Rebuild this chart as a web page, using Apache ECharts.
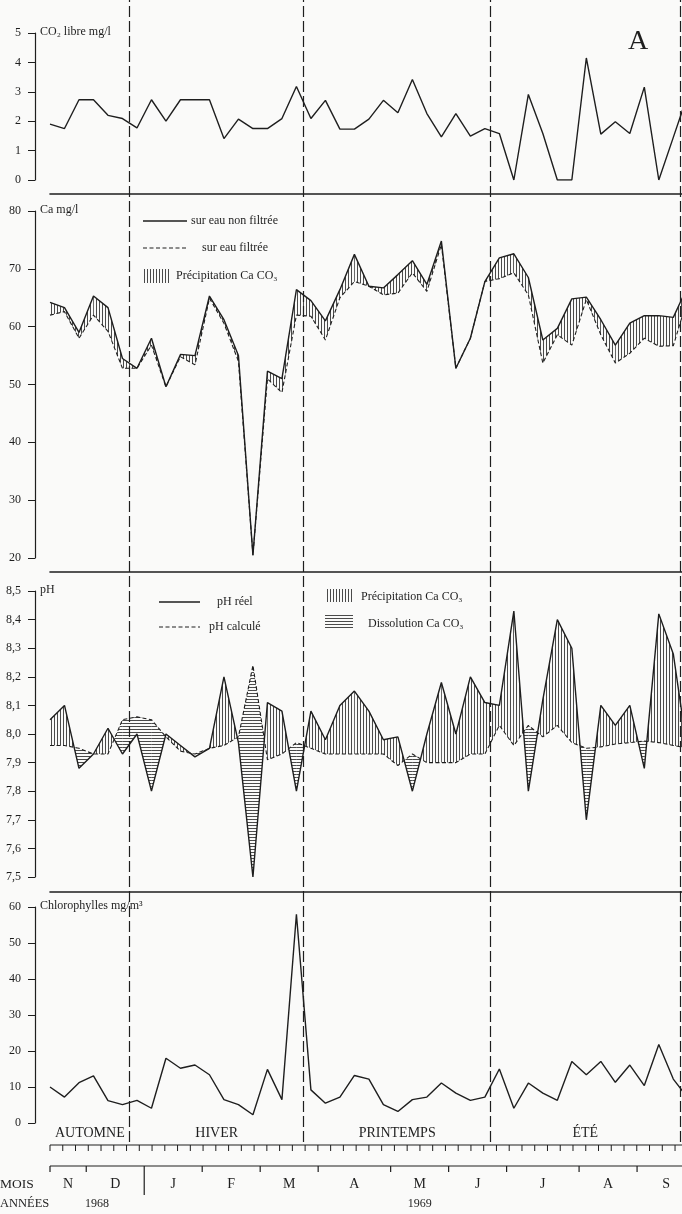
<!DOCTYPE html>
<html><head><meta charset="utf-8">
<script src="https://cdn.jsdelivr.net/npm/echarts@6/dist/echarts.min.js"></script>
<style>html,body{margin:0;padding:0;background:#fafaf9;}#c{width:682px;height:1214px;}</style>
</head><body><div id="c"></div>
<script>
// Weekly samples, index 0..44 (Nov 1968 - Sep 1969)
const co2 = [1.9,1.75,2.73,2.73,2.2,2.09,1.77,2.73,2.0,2.73,2.73,2.73,1.41,2.07,1.75,1.75,2.09,3.18,2.09,2.71,1.73,1.73,2.07,2.71,2.29,3.42,2.26,1.47,2.26,1.49,1.75,1.58,0,2.91,1.58,0,0,4.15,1.56,1.98,1.58,3.16,0,1.45,2.9];
const caRaw = [64.2,63.3,59.0,65.3,63.3,54.5,52.8,58.0,49.6,55.2,55.0,65.3,61.2,55.0,20.5,52.3,51.0,66.4,64.5,61.0,66.4,72.5,67.0,66.7,69.0,71.4,67.3,74.8,52.8,58.0,67.8,71.9,72.6,68.5,57.7,59.7,64.8,65.1,61.2,56.8,60.6,61.9,61.9,61.6,67];
const caFilt = [62.0,62.6,58.0,62.0,59.2,52.8,52.8,56.8,49.6,54.8,53.4,64.9,60.6,54.0,20.5,51.0,48.6,62.0,61.8,57.7,65.0,67.8,67.0,65.5,65.8,69.3,66.1,74.2,52.8,58.0,67.8,68.3,69.3,65.5,53.7,58.6,56.8,64.7,58.6,53.7,55.4,58.0,56.6,56.7,65];
const phReal = [8.05,8.10,7.88,7.93,8.02,7.93,8.00,7.80,8.00,7.96,7.92,7.95,8.20,7.97,7.50,8.11,8.08,7.80,8.08,7.98,8.10,8.15,8.08,7.98,7.99,7.80,8.00,8.18,8.00,8.20,8.11,8.10,8.43,7.80,8.12,8.40,8.30,7.70,8.10,8.03,8.10,7.88,8.42,8.28,7.93];
const phCalc = [7.96,7.96,7.95,7.93,7.93,8.05,8.06,8.05,7.99,7.94,7.93,7.95,7.96,7.99,8.24,7.91,7.93,7.97,7.95,7.93,7.93,7.93,7.93,7.93,7.89,7.93,7.90,7.90,7.90,7.93,7.93,8.03,7.96,8.03,7.99,8.03,7.97,7.95,7.955,7.965,7.97,7.975,7.97,7.96,7.95];
const chl = [10,7.2,11.2,13.1,6.2,5.1,6.3,4.1,18.0,15.2,16.1,13.4,6.5,5.1,2.3,14.9,6.5,58,9.2,5.5,7.2,13.2,12.2,5.1,3.2,6.5,7.2,11.1,8.3,6.3,7.2,15.0,4.1,11.1,8.3,6.3,17.1,13.4,17.1,11.3,16.1,10.4,21.8,12.2,7];

const months = ['N','D','J','F','M','A','M','J','J','A','S'];
const monthBounds = [0,2.5,6.5,10.5,14.5,18.5,23.5,27.5,31.5,36.5,40.5,44.5];
const years = ['1968','1969'];
const yearBounds = [0,6.5,44.5];
const seasons = ['AUTOMNE','HIVER','PRINTEMPS','ÉTÉ'];
const seasonBounds = [0,5.5,17.5,30.4,43.45];
const weekStep = 0.88;
const XMAX = 43.6;

const INK = '#1e1e1e';
const FONT = '"Liberation Serif", "DejaVu Serif", serif';

function hatch(vertical){
  const c = document.createElement('canvas'); c.width = 3; c.height = 3;
  const g = c.getContext('2d'); g.fillStyle = 'rgba(30,30,30,0.8)';
  if (vertical) g.fillRect(0,0,1,3); else g.fillRect(0,0,3,1);
  return {image: c, repeat: 'repeat'};
}
const VH = hatch(true), HH = hatch(false);

const pairs = arr => arr.map((v,i)=>[i,v]);

function fillBetween(idx, upper, lower, fillUp, fillDown){
  return {
    type:'custom', xAxisIndex:idx, yAxisIndex:idx, clip:true, z:1, silent:true,
    data: upper.slice(0,-1).map((v,i)=>[i,v]),
    renderItem(params, api){
      const i = api.value(0);
      const a0=upper[i], a1=upper[i+1], b0=lower[i], b1=lower[i+1];
      const d0=a0-b0, d1=a1-b1;
      const P=(x,y)=>api.coord([x,y]);
      const ch=[];
      const poly=(pts,fill)=>{ if(fill) ch.push({type:'polygon', shape:{points:pts}, style:{fill:fill, stroke:null}}); };
      if ((d0>=0 && d1>=0) || (d0<=0 && d1<=0)) {
        poly([P(i,a0),P(i+1,a1),P(i+1,b1),P(i,b0)], (d0+d1)>=0 ? fillUp : fillDown);
      } else {
        const t = d0/(d0-d1);
        const xc=i+t, yc=a0+(a1-a0)*t;
        poly([P(i,a0),P(xc,yc),P(i,b0)], d0>0?fillUp:fillDown);
        poly([P(xc,yc),P(i+1,a1),P(i+1,b1)], d1>0?fillUp:fillDown);
      }
      return {type:'group', children:ch};
    }
  };
}

function lineSeries(idx, data, dashed){
  return {type:'line', xAxisIndex:idx, yAxisIndex:idx, data:pairs(data), symbol:'none', clip:true, z:3,
    silent:true, lineStyle:{color:INK, width:dashed?1.1:1.4, type:dashed?[4,2.5]:'solid'}};
}

const gridL = 50;
const grids = [
  {left:gridL, right:0, top:33, height:147},
  {left:gridL, right:0, top:211, height:347},
  {left:gridL, right:0, top:591, height:286},
  {left:gridL, right:0, top:907, height:216},
  {left:gridL, right:0, top:1125, height:89},
  {left:gridL, right:0, top:0, height:1142}
];
const sepOffsets = [14,14,15];
const xAxes = grids.map((g,k)=>({
  type:'value', gridIndex:k, min:0, max:XMAX, position:'bottom',
  offset: k<3 ? sepOffsets[k] : 0,
  axisLine:{show:k<3, onZero:false, lineStyle:{color:INK, width:1.6}},
  axisTick:{show:false}, axisLabel:{show:false}, splitLine:{show:false}
}));
function yAx(k, min, max, interval, name, fmt){
  return {type:'value', gridIndex:k, min, max, interval, offset:15, position:'left',
    name, nameLocation:'end', nameGap:1,
    nameTextStyle:{align:'left', verticalAlign:'middle', padding:[0,0,4,5], fontFamily:FONT, fontSize:12, color:INK},
    axisLine:{show:true, onZero:false, lineStyle:{color:INK, width:1.2}},
    axisTick:{show:true, length:7, lineStyle:{color:INK, width:1}},
    axisLabel:{margin:14, fontFamily:FONT, fontSize:12, color:INK, padding:[0,0,4,0], formatter:fmt||(v=>String(v))},
    splitLine:{show:false}};
}
const yAxes = [
  yAx(0,0,5,1,'CO₂ libre mg/l'),
  yAx(1,20,80,10,'Ca mg/l'),
  yAx(2,7.5,8.5,0.1,'pH', v=>v.toFixed(1).replace('.',',')),
  yAx(3,0,60,10,'Chlorophylles mg/m³'),
  {type:'value', gridIndex:4, min:0, max:1, show:false},
  {type:'value', gridIndex:5, min:0, max:1, show:false}
];

const timeline = {
  type:'custom', xAxisIndex:4, yAxisIndex:4, clip:false, silent:true, data:[[0,0]],
  renderItem(params, api){
    const cs = params.coordSys, y0 = cs.y;
    const X = v => api.coord([v,0])[0];
    const xR = cs.x + cs.width;
    const ch = [];
    const line=(x1,y1,x2,y2,w)=>ch.push({type:'line', shape:{x1,y1,x2,y2}, style:{stroke:INK, lineWidth:w||1.2}});
    const text=(t,x,y,align,size)=>ch.push({type:'text', style:{text:t, x, y, align:align||'center', verticalAlign:'middle', font:(size||14)+'px '+FONT, fill:INK}});
    seasons.forEach((s,k)=>text(s, X((seasonBounds[k]+seasonBounds[k+1])/2), y0+8));
    // weekly tick bar
    line(X(0), y0+20, xR, y0+20);
    for (let k=0; X(k*weekStep) <= xR+0.5; k++){ const x=X(k*weekStep); line(x, y0+20, x, y0+26, 1); }
    // month bar
    line(X(0), y0+41, xR, y0+41);
    monthBounds.forEach((b,k)=>{ if (X(b) <= xR) { const isYear = yearBounds.indexOf(b)>0; line(X(b), y0+41, X(b), isYear? y0+70 : y0+47, 1.2); }});
    months.forEach((m,k)=>text(m, X((monthBounds[k]+monthBounds[k+1])/2), y0+59));
    years.forEach((yv,k)=>text(yv, X((yearBounds[k]+yearBounds[k+1])/2), y0+79, 'center', 12));
    text('MOIS', 0, y0+59, 'left', 13.5);
    text('ANNÉES', 0, y0+79, 'left', 12.5);
    return {type:'group', children:ch};
  }
};

const seasonLines = {
  type:'line', xAxisIndex:5, yAxisIndex:5, data:[[0,0]], symbol:'none', silent:true,
  lineStyle:{opacity:0},
  markLine:{symbol:'none', silent:true, animation:false, label:{show:false},
    lineStyle:{color:INK, width:1.2, type:[11,4]},
    data: seasonBounds.slice(1).map(v=>({xAxis:v}))}
};

const legendItems = [];
function gText(t,x,y,size){ legendItems.push({type:'text', x, y, style:{text:t, font:(size||12)+'px '+FONT, fill:INK, verticalAlign:'middle'}}); }
function gLine(x1,x2,y,dashed){ legendItems.push({type:'line', shape:{x1,y1:y,x2,y2:y}, style:{stroke:INK, lineWidth:dashed?1:1.5, lineDash:dashed?[4,2.5]:null}}); }
function gBox(x,y,w,h,fill){ legendItems.push({type:'rect', shape:{x,y,width:w,height:h}, style:{fill}}); }
// Ca legend
gLine(143,187,221,false); gText('sur eau non filtrée',191,221);
gLine(143,187,248,true); gText('sur eau filtrée',202,248);
gBox(143,269,28,14,VH); gText('Précipitation Ca CO₃',176,276);
// pH legend
gLine(159,200,602,false); gText('pH réel',217,602);
gLine(159,200,627,true); gText('pH calculé',209,627);
gBox(325,589,28,13,VH); gText('Précipitation Ca CO₃',361,597);
gBox(325,614,28,14,HH); gText('Dissolution Ca CO₃',368,624);
legendItems.push({type:'text', x:628, y:42, style:{text:'A', font:'28px '+FONT, fill:INK, verticalAlign:'middle'}});

const chart = echarts.init(document.getElementById('c'), null, {renderer:'canvas'});
chart.setOption({
  backgroundColor:'#fafaf9', animation:false,
  grid: grids, xAxis: xAxes, yAxis: yAxes,
  graphic: legendItems,
  series: [
    lineSeries(0, co2),
    fillBetween(1, caRaw, caFilt, VH, null),
    lineSeries(1, caRaw), lineSeries(1, caFilt, true),
    fillBetween(2, phReal, phCalc, VH, HH),
    lineSeries(2, phReal), lineSeries(2, phCalc, true),
    lineSeries(3, chl),
    timeline, seasonLines
  ]
});
</script></body></html>
